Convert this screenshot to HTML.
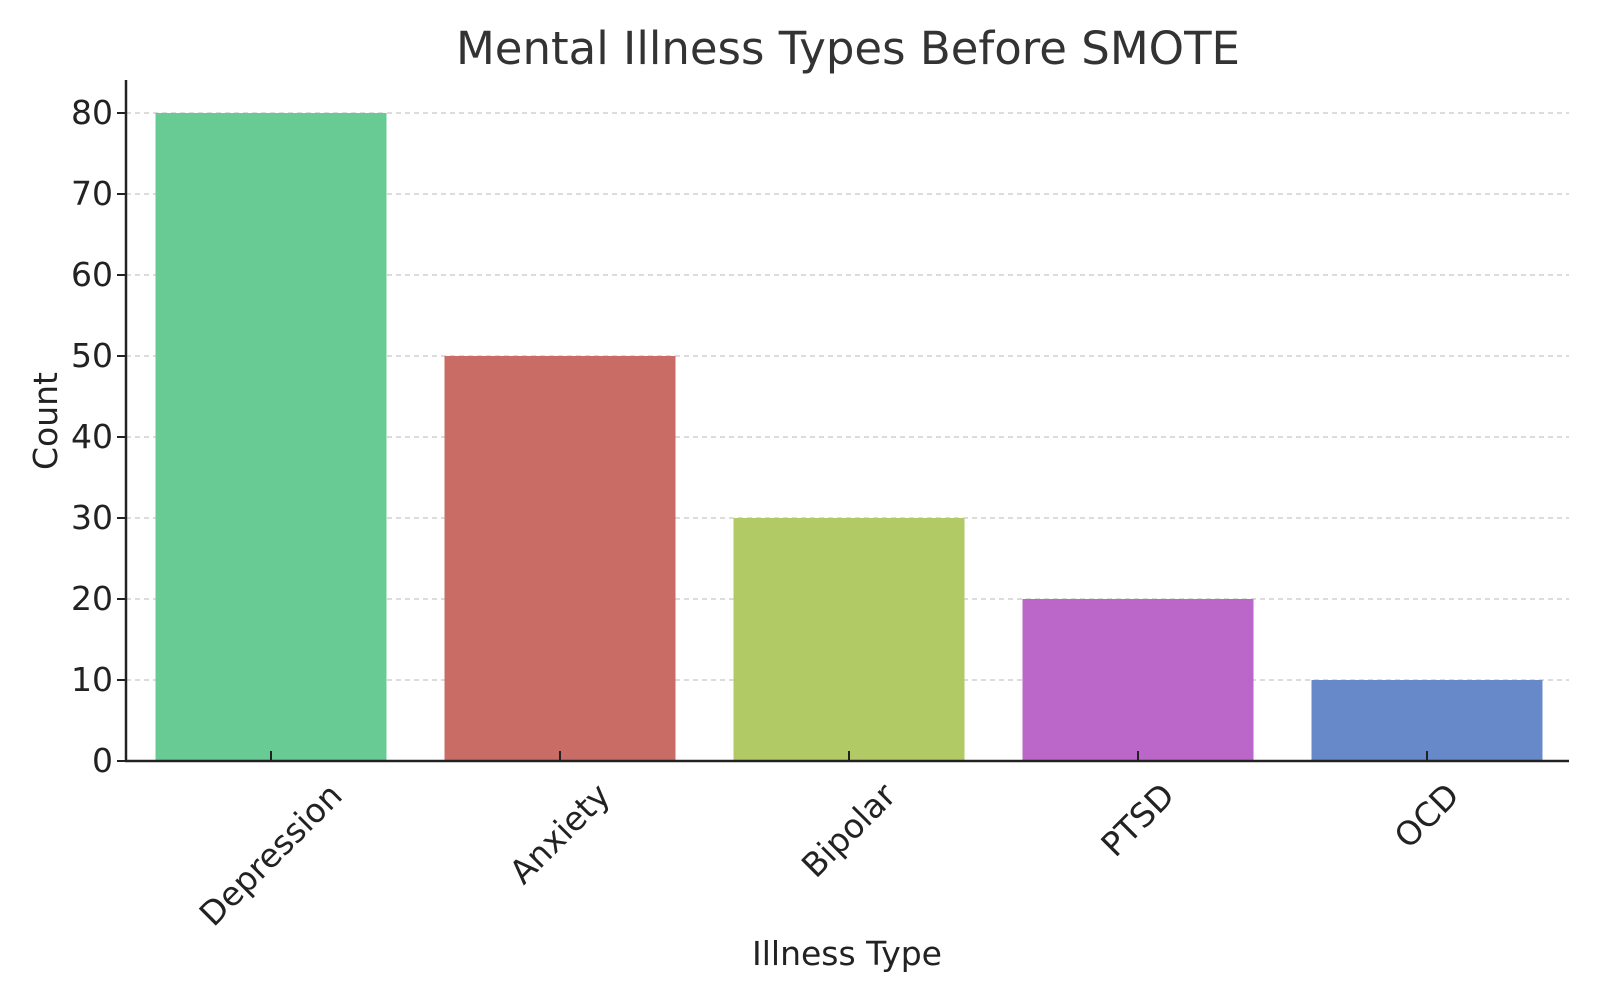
<!DOCTYPE html>
<html><head><meta charset="utf-8">
<style>
html,body{margin:0;padding:0;background:#fff;}
svg{display:block;font-family:"DejaVu Sans","Liberation Sans",sans-serif;}
</style></head>
<body>
<svg id="chart" width="1600" height="1000" viewBox="0 0 1600 1000" xmlns="http://www.w3.org/2000/svg">
<rect width="1600" height="1000" fill="#fff"/>
<text x="848" y="64" font-size="45" fill="#333" text-anchor="middle">Mental Illness Types Before SMOTE</text>
<g id="grid"></g><g id="bars"></g><g id="axes"></g>
<text x="847" y="965" font-size="33" fill="#222" text-anchor="middle">Illness Type</text>
<text transform="translate(57,421) rotate(-90)" font-size="33" fill="#222" text-anchor="middle">Count</text>
</svg>
<script>
const categories = ["Depression","Anxiety","Bipolar","PTSD","OCD"];
const counts = [80,50,30,20,10];
const colors = ["#68cb94","#c96c66","#b2ca66","#bb67c9","#6788c9"];
const yTicks = [0,10,20,30,40,50,60,70,80];

const NS="http://www.w3.org/2000/svg";
const x0=126, x1=1569, yBase=761, yTop=113, yMax=80;
const firstCenter=271, step=289, barW=231;
const yScale=v=>yBase-(v/yMax)*(yBase-yTop);
const xCenter=i=>firstCenter+i*step;
function mk(tag,attrs,parent){const e=document.createElementNS(NS,tag);for(const k in attrs)e.setAttribute(k,attrs[k]);parent.appendChild(e);return e;}
const grid=document.getElementById('grid'),bars=document.getElementById('bars'),axes=document.getElementById('axes');

yTicks.forEach(t=>{
  const y=yScale(t);
  if(t>0){const g=mk('line',{x1:x0,x2:x1,y1:y,y2:y,stroke:'#c8c8c8','stroke-width':1.3,'stroke-dasharray':'5,4'},grid);
  
  }
  const tk=mk('line',{x1:x0-9,x2:x0,y1:y,y2:y,stroke:'#222','stroke-width':2},axes);
  
  
  const lb=mk('text',{x:x0-13,y:y+11,'font-size':33,fill:'#222','text-anchor':'end'},axes);
  lb.textContent=t;
  
  
});

categories.forEach((c,i)=>{
  const cx=xCenter(i), y=yScale(counts[i]);
  const r=mk('rect',{x:cx-barW/2,y:y,width:barW,height:yBase-y,fill:colors[i]},bars);
  
  
  const tk=mk('line',{x1:cx,x2:cx,y1:yBase-10,y2:yBase,stroke:'#222','stroke-width':2},axes);
  
  
  const t=mk('text',{x:0,y:0,'font-size':33,fill:'#222','text-anchor':'middle'},axes);
  t.textContent=c;
  
  
  const L=t.getComputedTextLength();
  const h=(L+33)*0.7071;
  const cy=778+h/2;
  t.setAttribute('transform','translate('+cx+','+cy+') rotate(-45)');
  t.setAttribute('dy','11');
});

const ya=mk('line',{x1:x0,x2:x0,y1:80,y2:yBase+1,stroke:'#222','stroke-width':2.5},axes);


const xa=mk('line',{x1:x0-1,x2:x1,y1:yBase,y2:yBase,stroke:'#222','stroke-width':2.5},axes);


</script>
</body></html>
